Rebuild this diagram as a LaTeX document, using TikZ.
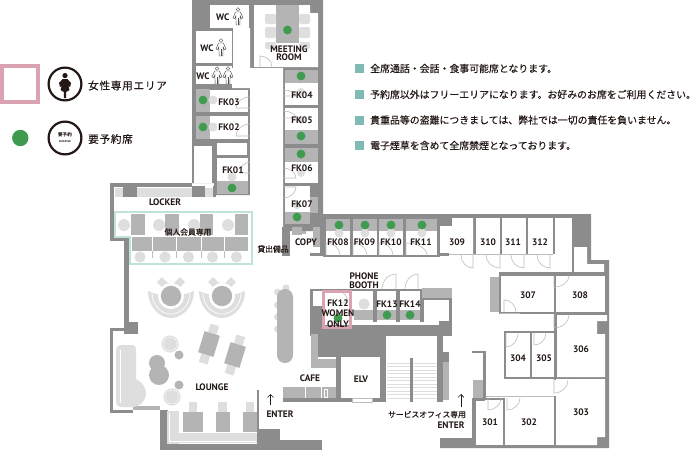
\documentclass[tikz,border=0pt]{standalone}
\usepackage{fontspec}
\setmainfont{PT Sans}
\newfontfamily\cjk{Noto Sans CJK JP}
\newfontfamily\cjkm[FakeBold=0.25]{Noto Sans CJK JP}
\definecolor{wallc}{HTML}{8C8C8C}
\definecolor{furn}{HTML}{B4B4B4}
\definecolor{lite}{HTML}{DDDEDD}
\definecolor{seat}{HTML}{3F9B50}
\definecolor{pinkc}{HTML}{DBA3B2}
\definecolor{mint}{HTML}{BFE3D8}
\definecolor{teal}{HTML}{7FBAB4}
\definecolor{ink}{HTML}{231815}
\definecolor{doorc}{HTML}{BDBDBD}
\tikzset{
  wall/.style={fill=wallc},
  room/.style={fill=white},
  panel/.style={fill=furn},
  soft/.style={fill=lite},
  seatdot/.style={fill=seat},
  doorline/.style={draw=doorc,line width=.6pt},
  lab/.style={font=\bfseries\fontsize{9.4}{10}\selectfont,text=ink,inner sep=0pt},
  jlab/.style={font=\cjkm\fontsize{7.8}{9}\selectfont,text=ink,inner sep=0pt},
  note/.style={font=\cjkm\fontsize{9.9}{12}\selectfont,text=ink,inner sep=0pt,anchor=west},
  legendt/.style={font=\cjkm\fontsize{10.6}{12}\selectfont,text=ink,inner sep=0pt,anchor=west},
  wcicon/.style={draw=black!70,fill=white,line width=.45pt},
  arrowup/.style={draw=ink,line width=.6pt,-{Straight Barb[length=3pt,width=6pt]}},
}
\usetikzlibrary{arrows.meta}
\newcommand\rc[5]{\fill[#1] (#2,#3) rectangle (#4,#5);}
\newcommand\dotat[2]{\fill[seatdot] (#1,#2) circle (4.4pt);}
\newcommand\softc[3]{\fill[soft] (#1,#2) circle (#3pt);}
\newcommand\furc[3]{\fill[panel] (#1,#2) circle (#3pt);}
\newcommand\lbl[4]{\node[lab] (#1) at (#2,#3) {#4};}
\newcommand\doorq[6]{\draw[doorline] (#1,#2) -- (#3,#4) .. controls ({#3+.55*(#5-#1)},{#4+.55*(#6-#2)}) and ({#5+.55*(#3-#1)},{#6+.55*(#4-#2)}) .. (#5,#6);}
\newcommand\wcman[2]{\begin{scope}[shift={(#1,#2)}]
 \draw[wcicon] (0,-7.5) circle (1.9pt);
 \draw[wcicon] (-2.4,-5) -- (2.4,-5) -- (5,1) -- (3.3,1.5) -- (2.2,-1) -- (1.8,8) -- (-1.8,8) -- (-2.2,-1) -- (-3.3,1.5) -- (-5,1) -- cycle;
 \draw[wcicon] (0,1) -- (0,8);
\end{scope}}
\begin{document}
\begin{tikzpicture}[x=1pt,y=-1pt]
\useasboundingbox (0,0) rectangle (700,450);
\fill[white] (0,0) rectangle (700,450);

% ---- tower mass
\fill[wallc] (192,0) -- (323,0) -- (323,231) -- (281,231) -- (281,183) -- (250,183) -- (250,195) -- (214,195) -- (214,183) -- (192,183) -- cycle;
% corridor
\fill[white] (233,28) -- (250,28) -- (250,68) -- (283,68) -- (283,240) -- (250,240) -- (250,88) -- (233,88) -- cycle;
% WCs
\rc{room}{210}{5}{249}{28}
\rc{room}{196}{31}{232}{63}
\rc{room}{196}{66}{232}{84}
\rc{room}{232}{68}{250}{88}
% meeting room
\fill[white] (254,5) -- (310,5) -- (310,13) -- (318,13) -- (318,67) -- (254,67) -- cycle;
\rc{panel}{276}{5}{299}{43}
\foreach \yy/\hh in {14/10,27/11,42/7}{
 \fill[soft,rounded corners=2pt] (265,\yy) rectangle (276,\yy+\hh);
 \fill[soft,rounded corners=2pt] (299,\yy) rectangle (310,\yy+\hh);}
\dotat{287.5}{30}
\doorq{260}{67}{260}{56}{272}{67}
% right column FK04-07
\rc{panel}{285}{70}{318}{83}  \rc{room}{285}{83}{318}{105}
\rc{room}{285}{108}{318}{130} \rc{panel}{285}{130}{318}{144}
\rc{panel}{285}{148}{318}{162}\rc{room}{285}{162}{318}{183}
\rc{room}{285}{186}{310}{212} \rc{panel}{285}{212}{310}{224} \rc{panel}{310}{197}{318}{213}
\softc{301}{92}{4}\softc{301}{120}{4}\softc{301}{173}{4}\softc{297}{205}{4}
\dotat{301}{76}\dotat{301}{136}\dotat{301}{154}\dotat{297}{217}
\doorq{283}{96}{296}{96}{283}{90}
\doorq{283}{118}{296}{118}{283}{111}
\doorq{283}{178}{296}{178}{283}{168}
\doorq{283}{187}{296}{187}{283}{198}
% left column FK01-03
\rc{panel}{196}{89}{210}{112}\rc{room}{210}{90}{248}{112}
\rc{panel}{196}{116}{210}{139}\rc{room}{210}{116}{248}{139}
\rc{room}{217}{143}{247}{155}
\rc{room}{194}{146}{212}{183}
\rc{room}{217}{158}{248}{181}\rc{panel}{217}{181}{248}{194}
\softc{213}{100}{4.5}\softc{213}{127}{4.5}\softc{232}{177}{4.5}
\dotat{203}{100}\dotat{203}{127}\dotat{232}{188}
\doorq{250}{108}{236}{108}{250}{97}
\doorq{250}{136}{236}{136}{250}{124}
\doorq{250}{173}{240}{173}{250}{162}

% ---- locker room / left
\rc{wall}{110}{183}{192}{187}
\rc{wall}{110}{183}{114}{241}
\rc{wall}{110}{238}{128}{241}
\rc{wall}{124}{238}{129}{322}
\rc{wall}{124}{322}{138}{334}
\rc{soft}{115}{188}{123}{197}\rc{wall}{123}{186}{137}{197}
\rc{soft}{137}{188}{192}{197}\rc{wall}{192}{186}{205}{197}
\rc{soft}{205}{188}{213}{197}\rc{wall}{213}{186}{216}{197}
% member desks
\foreach \xa/\xb in {131/145,165/179,200/213,235/248}{\rc{panel}{\xa}{214}{\xb}{235}}
\foreach \xx in {124,159,194,228}{\softc{\xx}{225}{6}}
\rc{panel}{132}{237}{248}{251}
\foreach \xx in {152.5,176.5,201,224.5}{\draw[white,line width=.7pt] (\xx,237) -- (\xx,251);\draw[doorc,line width=.5pt] (\xx,251) -- (\xx,258);}
\foreach \xx in {140,165,188.5,212.5,236.5}{\softc{\xx}{257}{5.6}}
\draw[mint,line width=2.6pt] (115,212) -- (252,212) -- (252,264) -- (130,264) -- (130,237) -- (115,237) -- cycle;

% ---- copy corner
\rc{wall}{282}{227}{290}{256}
\rc{furn}{292}{227}{302}{235}
\rc{furn}{302}{231}{306}{234}
\rc{furn}{313}{227}{320}{247}
\rc{wall}{310}{253}{325}{256}
\rc{wall}{320}{214}{325}{256}

% ---- north band and FK08-11
\rc{wall}{320}{214}{591}{218}
\rc{wall}{323}{218}{440}{257}
\foreach \xa/\xb/\xc in {326/350/339,353/377/365,379/403/391,406/437/422}{
 \rc{panel}{\xa}{219}{\xb}{231}
 \rc{room}{\xa}{231}{\xb}{255}
 \softc{\xc}{233}{4.5}
 \dotat{\xc}{225}
 \doorq{\xa}{255}{\xa}{243}{\xb-10}{255}
}
\rc{wall}{438}{218}{452}{226}
\rc{room}{440}{226}{452}{255}
\rc{wall}{440}{252}{553}{257}
\fill[wall] (440,218) rectangle (572,255);
\fill[white] (440,226) -- (452,226) -- (452,218) -- (473,218) -- (473,254) -- (440,254) -- cycle;
\rc{room}{476}{218}{500}{254}
\rc{room}{502}{218}{526}{254}
\rc{room}{528}{218}{553}{254}
\rc{room}{555}{218}{572}{262}
\rc{room}{440}{254}{572}{262}
\rc{wall}{440}{253}{449}{256}
\draw[doorline] (449,254.5) -- (553,254.5);
\doorq{473}{255}{473}{268}{461}{255}
\doorq{500}{255}{500}{268}{486}{255}
\doorq{524}{255}{524}{268}{511}{255}
\doorq{550}{255}{550}{268}{537}{255}

% ---- east block
\fill[wallc] (572,214) -- (591,214) -- (591,260) -- (609,260) -- (609,448) -- (440,448) -- (440,438) -- (472,438) -- (472,398) -- (605,398) -- (605,273) -- (572,273) -- cycle;
\fill[white] (574,247) -- (587,247) -- (587,264) -- (604,264) -- (604,273) -- (574,273) -- cycle;
\rc{wall}{499}{272}{605}{276}
\rc{wall}{499}{276}{556}{314}
\rc{wall}{554}{312}{607}{315}
\rc{furn}{490}{277}{499}{312}
\rc{room}{501}{276}{554}{312}
\rc{room}{556}{276}{604}{312}
\rc{wall}{504}{331}{557}{379}
\rc{room}{506}{333}{530}{377}
\rc{room}{532}{333}{556}{377}
\rc{wall}{504}{377}{609}{379}
\fill[wallc] (554,315) rectangle (609,398);
\fill[white] (557,315) -- (607,315) -- (607,321) -- (597,321) -- (597,334) -- (605,334) -- (605,377) -- (557,377) -- cycle;
\fill[wallc] (503,396) rectangle (609,448);
\fill[white] (556,379) -- (605,379) -- (605,437) -- (597,437) -- (597,445) -- (556,445) -- cycle;
\rc{room}{505}{398}{554}{445}
\rc{room}{476}{400}{503}{445}
\rc{room}{472}{380}{556}{396}
\rc{room}{472}{351}{504}{396}
\rc{wall}{483}{351}{486}{400}
\rc{wall}{472}{351}{486}{353}
\rc{furn}{473}{380}{483}{398}
\rc{room}{440}{398}{472}{438}
\rc{wall}{472}{398}{485}{401}
\rc{wall}{472}{398}{476}{440}
\rc{room}{503}{396}{554}{398}
\draw[doorline] (486,396.5) -- (554,396.5);
\draw[doorline] (500,313) -- (520,313);
\doorq{554}{276}{554}{287}{569}{276}
\doorq{554}{315}{554}{328}{569}{315}
\doorq{554}{380}{554}{393}{568}{380}
\doorq{504}{312}{504}{300}{516}{312}
\doorq{506}{333}{506}{347}{518}{333}
\doorq{534}{333}{534}{345}{546}{333}
\doorq{488}{398}{488}{410}{501}{398}
\doorq{507}{398}{507}{410}{520}{398}

% ---- central core
\rc{wall}{310}{289}{423}{291}
\rc{wall}{310}{289}{313}{325}
\rc{room}{313}{291}{322}{306}
\rc{wall}{313}{306}{322}{325}
\rc{room}{322}{291}{352}{325}
\rc{room}{352}{291}{373}{322}
\softc{364}{304}{5.6}
\rc{panel}{354}{310}{373}{320}
\rc{wall}{373}{289}{377}{322}
\rc{room}{377}{291}{396}{310}
\rc{panel}{377}{310}{396}{320}
\rc{wall}{396}{289}{400}{322}
\rc{room}{400}{291}{420}{310}
\rc{panel}{400}{310}{420}{320}
\rc{wall}{420}{289}{423}{322}
\rc{room}{355}{322}{422}{325}
\dotat{338}{318}\dotat{387}{315}\dotat{410}{315}
\doorq{396}{289}{396}{274}{382}{289}
\doorq{418}{289}{418}{274}{405}{289}
\doorq{326}{291}{341}{291}{341}{303}
\rc{wall}{310}{325}{449}{336}
\rc{wall}{318}{333}{386}{357}
\rc{furn}{311}{334}{318}{368}
\rc{furn}{318}{359}{336}{368}
\rc{wall}{336}{357}{341}{402}
\rc{room}{341}{357}{382}{398}
\rc{wall}{382}{336}{386}{402}
\rc{wall}{341}{398}{352}{402}
\rc{wall}{372}{398}{386}{402}
\draw[doorc,line width=.5pt] (352,398.5) rectangle (372,402);
\rc{wall}{283}{398}{336}{402}
\rc{furn}{283}{387}{336}{398}
\draw[white,line width=.7pt] (305,387) -- (305,398);
\draw[white,line width=.7pt] (321,387) -- (321,398);
\draw[white,line width=.7pt] (324,389) rectangle (327,397);
% small room by FK14
\rc{furn}{422}{288}{452}{298}
\rc{wall}{422}{298}{452}{300}
\rc{wall}{422}{298}{424}{322}
\rc{room}{424}{300}{449}{325}
\rc{wall}{449}{298}{452}{335}
\rc{wall}{439}{321}{452}{336}
\rc{room}{424}{322}{439}{325}
% stairs
\foreach \yy in {363,366.5,...,398}{\draw[lite,line width=.7pt] (387,\yy) -- (437,\yy);}
\rc{wall}{410}{358}{413}{402}
\rc{wall}{380}{357}{386}{402}
\rc{wall}{437}{335}{443}{402}
\rc{wall}{437}{352}{449}{362}
\rc{furn}{443}{362}{449}{400}
\draw[pinkc,line width=3pt] (323.5,291.5) rectangle (350.5,327.5);

% ---- lounge south
\rc{wall}{110}{328}{113}{413}
\rc{wall}{110}{328}{124}{331}
\rc{wall}{110}{410}{133}{413}
\rc{furn}{133}{406}{160}{410}
\rc{wall}{160}{410}{168}{450}
\rc{wall}{160}{444}{258}{450}
\rc{wall}{257}{390}{259}{430}
\rc{wall}{257}{429}{280}{450}
\rc{wall}{280}{440}{322}{450}
\fill[soft] (167,411) rectangle (179,444);
\fill[soft] (167,433) rectangle (257,443);
\draw[white,line width=.5pt] (169,413) -- (169,441) -- (256,441);
\foreach \xa/\xb/\xc/\xd in {183/203/189/197,216/230/218/227,243/257/246/254}{
 \rc{soft}{\xc}{402}{\xd}{412}
 \rc{panel}{\xa}{412}{\xb}{432}}

% sofas
\foreach \cx in {171,222}{
 \fill[soft] (\cx-9,284) ++(-5,-2) -- ++(5,-5) -- ++(7,7) -- ++(-5,5) -- cycle;
 \fill[soft] (\cx+9,284) ++(5,-2) -- ++(-5,-5) -- ++(-7,7) -- ++(5,5) -- cycle;
 \fill[soft] (\cx-23,291) .. controls (\cx-23,306) and (\cx-12,318) .. (\cx,318) .. controls (\cx+12,318) and (\cx+23,306) .. (\cx+23,291) -- (\cx+15,294) -- (\cx-15,294) -- cycle;
 \draw[white,line width=.7pt] (\cx-19,293) .. controls (\cx-19,305) and (\cx-10,314) .. (\cx,314) .. controls (\cx+10,314) and (\cx+19,305) .. (\cx+19,293);
 \fill[white] (\cx,296) circle (13pt);
 \furc{\cx}{296}{10.2}
}
% tall table
\softc{286}{288}{3.6}
\foreach \yy in {292,305,317,329}{\softc{277.5}{\yy}{3.5}}
\fill[panel,rounded corners=7.9pt] (277,289) rectangle (293,363);
% diagonal tables
\foreach \px/\py in {209/344,235/355}{
 \begin{scope}[shift={(\px,\py)},rotate=-17]
  \rc{soft}{-4.5}{-20}{4.5}{-11}
  \rc{soft}{-4.5}{11}{4.5}{20}
  \rc{panel}{-8}{-11}{8}{11}
 \end{scope}}
% stools and sofa
\fill[soft] (116,350) .. controls (116,347) and (118,345) .. (121,345) -- (133,345) .. controls (135,345) and (136,347) .. (136,350) -- (136,379) .. controls (142,382) and (146,388) .. (146,393) .. controls (146,401) and (140,407) .. (132,407) -- (121,407) .. controls (118,407) and (116,405) .. (116,402) -- cycle;
\draw[white,line width=.5pt] (120,350) -- (120,403);
\softc{170}{344}{8.6}\draw[white,line width=.4pt] (170,344) circle (7pt);
\softc{172}{397}{8.6}\draw[white,line width=.4pt] (172,397) circle (7pt);
\furc{179}{355}{4.5}\furc{179}{385}{4.5}
\furc{157}{363}{8}\furc{159}{375}{10}

% ---- WC icons
\wcman{238}{17}\wcman{221}{48}\wcman{217}{76}\wcman{228}{76}

% ---- labels
\lbl{tw1}{222.7}{17}{WC}\lbl{tw2}{207}{48}{WC}\lbl{tw3}{203}{76}{WC}
\lbl{tmr1}{289}{49}{MEETING}\lbl{tmr2}{289}{57.5}{ROOM}
\lbl{t03}{229}{102}{FK03}\lbl{t02}{229}{127.5}{FK02}\lbl{t01}{233}{170}{FK01}
\lbl{t04}{302}{95}{FK04}\lbl{t05}{302}{120}{FK05}\lbl{t06}{302}{168}{FK06}\lbl{t07}{302}{204}{FK07}
\lbl{tlock}{165}{202}{LOCKER}
\node[jlab] (tmem) at (188,232) {個人会員専用};
\node[jlab] (tlend) at (273,249) {貸出備品};
\lbl{tcopy}{306}{242}{COPY}
\lbl{t08}{338}{242}{FK08}\lbl{t09}{364.5}{242}{FK09}\lbl{t10}{391}{242}{FK10}\lbl{t11}{421}{242}{FK11}
\lbl{t309}{457}{242}{309}\lbl{t310}{488}{242}{310}\lbl{t311}{513}{242}{311}\lbl{t312}{540}{242}{312}
\lbl{t307}{528}{295}{307}\lbl{t308}{580}{295}{308}\lbl{t306}{581}{349}{306}
\lbl{t304}{518}{358}{304}\lbl{t305}{544}{358}{305}\lbl{t303}{581}{412}{303}
\lbl{t302}{529}{422}{302}\lbl{t301}{490}{422}{301}
\lbl{tp1}{364}{276}{PHONE}\lbl{tp2}{364}{285}{BOOTH}
\lbl{t12a}{338}{303}{FK12}\lbl{t12b}{338}{313}{WOMEN}\lbl{t12c}{338}{324}{ONLY}
\lbl{t13}{387}{304}{FK13}\lbl{t14}{410}{304}{FK14}
\lbl{tcafe}{310}{378}{CAFE}\lbl{telv}{361}{379}{ELV}\lbl{tlounge}{212}{387}{LOUNGE}
\lbl{tent1}{280}{414}{ENTER}
\node[jlab] (tsvc) at (427,414.5) {サービスオフィス専用};
\lbl{tent2}{451}{425}{ENTER}
\coordinate (a1s) at (270.5,405); \coordinate (a1e) at (270.5,394);
\coordinate (a2s) at (461,407); \coordinate (a2e) at (461,394);
\draw[arrowup] (a1s) -- (a1e);
\draw[arrowup] (a2s) -- (a2e);

% ---- legend
\draw[pinkc,line width=4pt] (2,66) rectangle (38,102);
\fill[seat] (20.3,138) circle (8.2pt);
\draw[ink,line width=2.2pt] (65,84) circle (16.4pt);
\fill[ink] (65,75.6) circle (2.6pt);
\fill[ink] (62.6,79) -- (67.4,79) -- (71,83) -- (70,87) -- (68.3,86) -- (69.5,90) -- (66.2,92) -- (66,98) -- (64,98) -- (63.8,92) -- (60.5,90) -- (61.7,86) -- (60,87) -- (59,83) -- cycle;
\draw[ink,line width=2.2pt] (65,138) circle (16.4pt);
\node[font=\cjk\bfseries\fontsize{4.6}{5}\selectfont,text=ink,inner sep=0pt] (tr1) at (65,135.2) {要予約};
\node[font=\bfseries\fontsize{2.6}{3}\selectfont,text=ink,inner sep=0pt] (tr2) at (65,141.5) {RESERVED};
\node[legendt] (tlg1) at (88,85.5) {\addfontfeature{LetterSpace=7}女性専用エリア};
\node[legendt] (tlg2) at (88,139) {\addfontfeature{LetterSpace=7}要予約席};

% ---- notes
\foreach \yy in {68.5,94.5,120,145.5}{\rc{fill=teal}{355}{\yy-4.5}{364}{\yy+4.5}}
\node[note] (n1) at (370,68.5) {全席通話・会話・食事可能席となります。};
\node[note] (n2) at (370,94.5) {予約席以外はフリーエリアになります。お好みのお席をご利用ください。};
\node[note] (n3) at (370,120) {貴重品等の盗難につきましては、弊社では一切の責任を負いません。};
\node[note] (n4) at (370,145.5) {電子煙草を含めて全席禁煙となっております。};
\end{tikzpicture}
\end{document}
